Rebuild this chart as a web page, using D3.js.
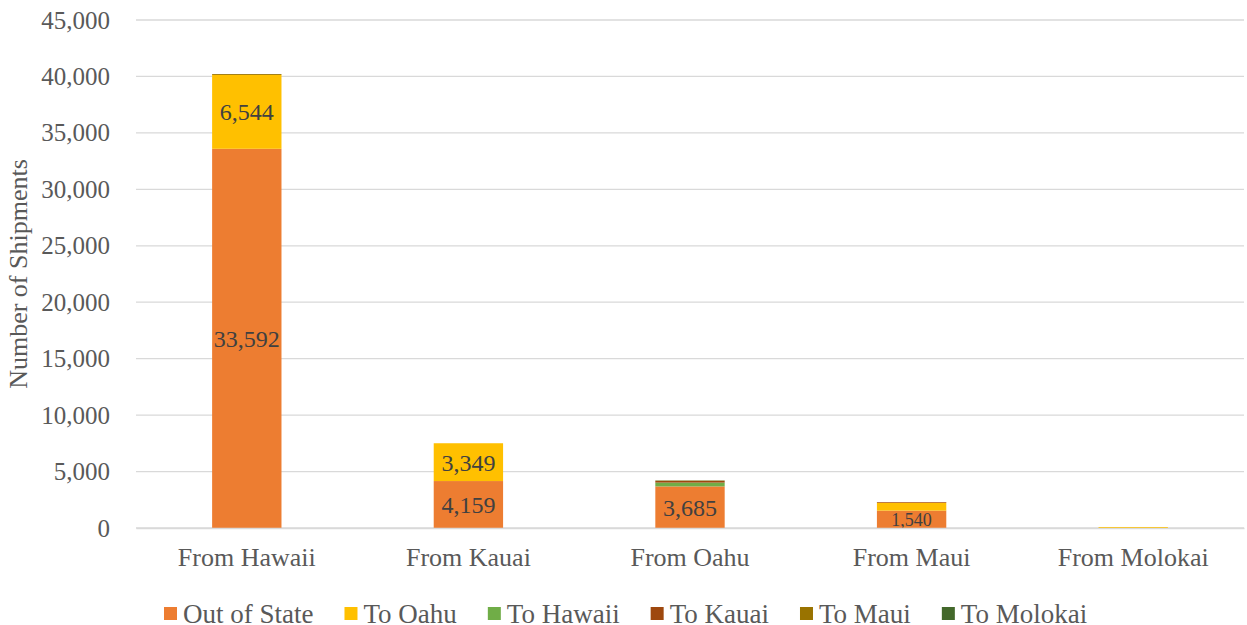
<!DOCTYPE html>
<html lang="en">
  <head>
    <meta charset="utf-8">
    <title>Shipments</title>
    <script src="https://d3js.org/d3.v7.js"></script>
    <style>
      body { margin: 0; background: white; }
    </style>
  </head>
  <body>
    <script type="text/javascript">

      // data
      const origins = ["From Hawaii", "From Kauai", "From Oahu", "From Maui", "From Molokai"];
      const series = ["Out of State", "To Oahu", "To Hawaii", "To Kauai", "To Maui", "To Molokai"];
      const colors = ["#ED7D31", "#FFC000", "#70AD47", "#9E480E", "#997300", "#43682B"];
      const outOfState = [33592, 4159, 3685, 1540, 0];
      const toOahu     = [6544, 3349, 0, 700, 90];
      const toHawaii   = [0, 0, 340, 0, 0];
      const toKauai    = [0, 0, 140, 60, 0];
      const toMaui     = [80, 0, 30, 0, 0];
      const toMolokai  = [0, 0, 20, 0, 0];
      const yTicks = [0, 5000, 10000, 15000, 20000, 25000, 30000, 35000, 40000, 45000];
      const labelled = ["Out of State", "To Oahu"];

      const font = "Liberation Serif, Times New Roman, serif";
      const w = 1247;
      const h = 625;
      const margin = {top: 20, right: 3, bottom: 97, left: 136};
      const innerWidth = w - margin.left - margin.right;
      const innerHeight = h - margin.top - margin.bottom;

      const table = origins.map((o, i) => ({
        origin: o,
        "Out of State": outOfState[i],
        "To Oahu": toOahu[i],
        "To Hawaii": toHawaii[i],
        "To Kauai": toKauai[i],
        "To Maui": toMaui[i],
        "To Molokai": toMolokai[i]
      }));

      const stacked = d3.stack().keys(series)(table);

      const xScale = d3.scaleBand()
        .domain(origins)
        .range([0, innerWidth])
        .paddingInner(0.687)
        .paddingOuter(0.3435);

      const yScale = d3.scaleLinear()
        .domain([0, 45000])
        .range([innerHeight, 0]);

      const color = d3.scaleOrdinal().domain(series).range(colors);

      const svg = d3.select("body")
        .append("svg")
        .attr("width", w)
        .attr("height", h);

      const plot = svg.append("g")
        .attr("id", "plot")
        .attr("transform", `translate(${margin.left}, ${margin.top})`);

      // gridlines
      plot.append("g")
        .selectAll("line")
        .data(yTicks)
        .enter()
        .append("line")
        .attr("x1", 0)
        .attr("x2", innerWidth)
        .attr("y1", d => yScale(d))
        .attr("y2", d => yScale(d))
        .attr("stroke", "#d9d9d9")
        .attr("stroke-width", 1.3);

      // bars
      plot.append("g")
        .selectAll("g")
        .data(stacked)
        .enter()
        .append("g")
        .attr("fill", d => color(d.key))
        .selectAll("rect")
        .data(d => d)
        .enter()
        .append("rect")
        .attr("x", d => xScale(d.data.origin))
        .attr("width", xScale.bandwidth())
        .attr("y", d => yScale(d[1]))
        .attr("height", d => yScale(d[0]) - yScale(d[1]));

      // data labels
      stacked.filter(s => labelled.includes(s.key)).forEach(s => {
        plot.append("g")
          .selectAll("text")
          .data(s.filter(d => d[1] - d[0] > 1000))
          .enter()
          .append("text")
          .attr("x", d => xScale(d.data.origin) + xScale.bandwidth() / 2)
          .attr("y", d => (yScale(d[0]) + yScale(d[1])) / 2)
          .attr("dy", "0.35em")
          .attr("text-anchor", "middle")
          .attr("fill", "#404040")
          .style("font-family", font)
          .style("font-size", d => (d[1] - d[0] < 2000 ? "18px" : "24px"))
          .text(d => d3.format(",")(d[1] - d[0]));
      });

      // y axis
      const yAxis = d3.axisLeft(yScale)
        .tickValues(yTicks)
        .tickFormat(d3.format(","))
        .tickSize(0)
        .tickPadding(26);

      plot.append("g")
        .attr("id", "yaxis")
        .call(yAxis)
        .attr("font-family", font)
        .attr("font-size", 25)
        .attr("fill", null)
        .call(g => g.select(".domain").remove())
        .selectAll("text")
        .attr("fill", "#595959");

      // x axis
      const xAxis = d3.axisBottom(xScale).tickSize(0).tickPadding(20);

      plot.append("g")
        .attr("id", "xaxis")
        .attr("transform", `translate(0, ${innerHeight})`)
        .call(xAxis)
        .attr("font-family", font)
        .attr("font-size", 26)
        .attr("fill", null)
        .call(g => g.select(".domain").attr("stroke", "#d9d9d9").attr("stroke-width", 1.3))
        .selectAll("text")
        .attr("fill", "#595959");

      // y-axis label
      svg.append("text")
        .attr("transform", `translate(18, ${margin.top + innerHeight / 2}) rotate(-90)`)
        .attr("text-anchor", "middle")
        .attr("dy", "0.35em")
        .attr("fill", "#595959")
        .style("font-family", font)
        .style("font-size", "26px")
        .text("Number of Shipments");

      // legend
      const legend = svg.append("g").attr("id", "legend");
      let lx = 164;
      series.forEach(s => {
        const item = legend.append("g")
          .attr("transform", `translate(${lx}, 613.5)`);
        item.append("rect")
          .attr("x", 0)
          .attr("y", -6.5)
          .attr("width", 13)
          .attr("height", 13)
          .attr("fill", color(s));
        const t = item.append("text")
          .attr("x", 19)
          .attr("dy", "0.35em")
          .attr("fill", "#595959")
          .style("font-family", font)
          .style("font-size", "27px")
          .text(s);
        lx += 19 + t.node().getComputedTextLength() + 31;
      });

    </script>
  </body>
</html>
